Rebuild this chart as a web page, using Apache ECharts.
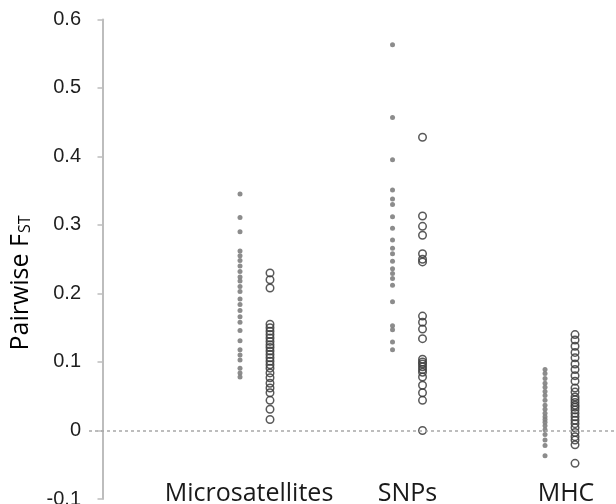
<!DOCTYPE html>
<html>
<head>
<meta charset="utf-8">
<script src="https://cdn.jsdelivr.net/npm/echarts@6/dist/echarts.min.js"></script>
<style>
html,body{margin:0;padding:0;background:#fff;}
#chart{width:616px;height:504px;}
</style>
</head>
<body>
<div id="chart"></div>
<script>
var categories = ['Microsatellites', 'SNPs', 'MHC'];
var yMin = -0.1, yMax = 0.6, yStep = 0.1;

var microFilled = [0.345,0.311,0.290,0.262,0.255,0.248,0.240,0.232,0.224,0.218,0.210,0.203,0.192,0.184,0.175,0.166,0.158,0.146,0.131,0.118,0.110,0.103,0.091,0.084,0.078];
var microOpen = [0.230,0.220,0.208,0.155,0.150,0.145,0.140,0.135,0.130,0.125,0.121,0.116,0.111,0.106,0.101,0.096,0.091,0.084,0.077,0.069,0.062,0.055,0.044,0.031,0.016];
var snpFilled = [0.563,0.457,0.395,0.351,0.338,0.330,0.312,0.295,0.278,0.266,0.258,0.247,0.236,0.229,0.222,0.212,0.188,0.153,0.147,0.129,0.118];
var snpOpen = [0.428,0.313,0.298,0.285,0.258,0.250,0.246,0.167,0.158,0.148,0.134,0.104,0.100,0.097,0.093,0.089,0.085,0.078,0.066,0.055,0.044,0.0];
var mhcFilled = [0.089,0.083,0.076,0.069,0.063,0.057,0.051,0.044,0.037,0.031,0.025,0.020,0.016,0.012,0.007,0.001,-0.006,-0.014,-0.022,-0.037];
var mhcOpen = [0.140,0.132,0.123,0.114,0.106,0.097,0.089,0.080,0.072,0.062,0.056,0.049,0.045,0.041,0.037,0.034,0.030,0.025,0.020,0.015,0.010,0.004,-0.003,-0.009,-0.014,-0.021,-0.048];

function toPoints(groups) {
  var out = [];
  groups.forEach(function (arr, i) {
    arr.forEach(function (v) { out.push([i + 1, v]); });
  });
  return out;
}

var chart = echarts.init(document.getElementById('chart'), null, {renderer: 'canvas'});
var labelRich = {
  l: {fontFamily: 'Open Sans', fontSize: 25, color: '#1a1a1a', padding: [0, 12, 0, 0]},
  c: {fontFamily: 'Open Sans', fontSize: 25, color: '#1a1a1a'},
  r: {fontFamily: 'Open Sans', fontSize: 25, color: '#1a1a1a', padding: [0, 0, 0, 12]}
};
chart.setOption({
  animation: false,
  backgroundColor: '#fff',
  grid: {left: 89, right: 0, top: 19.4, bottom: 5, containLabel: false, outerBoundsMode: 'none'},
  xAxis: {
    type: 'value', min: -0.0885, max: 3.367,
    axisLine: {show: false}, axisTick: {show: false}, splitLine: {show: false},
    axisLabel: {
      show: true, customValues: [1, 2, 3], margin: -18,
      formatter: function (v) {
        var i = Math.round(v) - 1;
        var key = i === 0 ? 'l' : (i === 2 ? 'r' : 'c');
        return '{' + key + '|' + categories[i] + '}';
      },
      rich: labelRich
    }
  },
  yAxis: {
    type: 'value', min: yMin, max: yMax, interval: yStep,
    axisLine: {show: true, lineStyle: {color: '#bdbdbd', width: 2}},
    axisTick: {show: true, length: 5, lineStyle: {color: '#bdbdbd', width: 1.5}},
    splitLine: {show: false},
    axisLabel: {
      margin: 8, fontFamily: 'Liberation Sans', fontSize: 20, color: '#1e1e1e',
      formatter: function (v) { return String(Math.round(v * 10) / 10); }
    }
  },
  series: [
    {
      type: 'scatter', name: 'filled', data: toPoints([microFilled, snpFilled, mhcFilled]),
      symbol: 'circle', symbolSize: 5, symbolOffset: [-15, 0],
      itemStyle: {color: '#808080', opacity: 0.9},
      z: 3,
      markLine: {
        silent: true, symbol: ['none', 'none'], label: {show: false},
        lineStyle: {color: '#a8a8a8', type: [3, 3], width: 1.5},
        data: [{yAxis: 0}], animation: false
      }
    },
    {
      type: 'scatter', name: 'open', data: toPoints([microOpen, snpOpen, mhcOpen]),
      symbol: 'circle', symbolSize: 7.5, symbolOffset: [15, 0],
      itemStyle: {color: 'rgba(255,255,255,0)', borderColor: '#3c3c3c', borderWidth: 1.5, opacity: 0.85},
      z: 4
    }
  ],
  graphic: [
    {
      type: 'text', x: 21, y: 283, rotation: Math.PI / 2,
      style: {
        text: '{a|Pairwise F}{b|ST}',
        align: 'center', verticalAlign: 'middle',
        rich: {
          a: {fontFamily: 'Open Sans', fontSize: 25, color: '#1a1a1a', verticalAlign: 'top', lineHeight: 25},
          b: {fontFamily: 'Open Sans', fontSize: 16, color: '#1a1a1a', verticalAlign: 'bottom', lineHeight: 16, padding: [15, 0, 0, 1]}
        }
      }
    }
  ]
});
</script>
</body>
</html>
